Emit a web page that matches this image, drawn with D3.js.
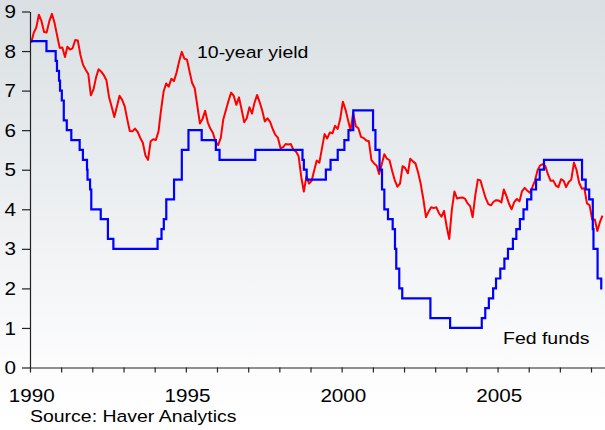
<!DOCTYPE html>
<html>
<head>
<meta charset="utf-8">
<script src="https://cdnjs.cloudflare.com/ajax/libs/d3/7.8.5/d3.min.js"></script>
<style>
body { margin: 0; }
#plot { width: 605px; height: 430px; }
</style>
</head>
<body>
<div id="plot"></div>
<script>

// 10-year Treasury yield, monthly from Jan 1990
var tenYearStart = "1990-01";
var tenYear = [
    8.21, 8.47, 8.59, 8.92, 8.76, 8.48, 8.47, 8.75, 8.94, 8.72, 8.39, 8.08,
    8.09, 7.85, 8.11, 8.04, 8.07, 8.28, 8.27, 7.90, 7.65, 7.53, 7.42, 6.88,
    7.03, 7.34, 7.54, 7.48, 7.39, 7.26, 6.84, 6.59, 6.33, 6.59, 6.87, 6.77,
    6.60, 6.26, 5.98, 5.97, 6.04, 5.96, 5.81, 5.68, 5.36, 5.25, 5.72, 5.77,
    5.75, 5.97, 6.48, 6.97, 7.18, 7.10, 7.30, 7.24, 7.46, 7.74, 7.98, 7.81,
    7.78, 7.47, 7.20, 7.06, 6.63, 6.17, 6.28, 6.49, 6.20, 6.04, 5.93, 5.71,
    5.62, 5.81, 6.27, 6.51, 6.74, 6.95, 6.87, 6.64, 6.83, 6.53, 6.20, 6.30,
    6.58, 6.42, 6.69, 6.89, 6.71, 6.49, 6.22, 6.30, 6.21, 6.03, 5.88, 5.81,
    5.54, 5.57, 5.65, 5.64, 5.65, 5.50, 5.46, 5.34, 4.81, 4.45, 4.83, 4.65,
    4.72, 5.00, 5.23, 5.18, 5.54, 5.90, 5.79, 5.94, 5.92, 6.11, 6.03, 6.28,
    6.72, 6.52, 6.26, 5.99, 6.44, 6.10, 6.05, 5.83, 5.80, 5.74, 5.72, 5.24,
    5.16, 5.10, 4.89, 5.14, 5.39, 5.28, 5.24, 4.97, 4.73, 4.57, 4.65, 5.09,
    5.04, 4.91, 5.28, 5.21, 5.16, 4.93, 4.65, 4.26, 3.80, 3.94, 4.05, 4.03,
    4.05, 3.90, 3.81, 3.96, 3.57, 3.25, 3.98, 4.45, 4.27, 4.29, 4.30, 4.27,
    4.15, 4.08, 3.80, 4.35, 4.75, 4.73, 4.50, 4.28, 4.13, 4.10, 4.19, 4.23,
    4.22, 4.17, 4.50, 4.34, 4.14, 4.00, 4.18, 4.26, 4.20, 4.46, 4.54, 4.47,
    4.42, 4.57, 4.72, 4.99, 5.11, 5.14, 5.09, 4.88, 4.72, 4.73, 4.60, 4.56,
    4.76, 4.72, 4.56, 4.69, 4.75, 5.18, 5.00, 4.67, 4.52, 4.53, 4.15, 4.10,
    3.74, 3.74, 3.45, 3.68, 3.84
];

// Fed funds target, dates of change
var fedDates = [
    "1990-01-01", "1990-07-13", "1990-10-29", "1990-11-13", "1990-12-07", "1990-12-19",
    "1991-01-09", "1991-02-01", "1991-03-08", "1991-04-30", "1991-08-06", "1991-09-13",
    "1991-10-31", "1991-11-06", "1991-12-06", "1991-12-20", "1992-04-09", "1992-07-02",
    "1992-09-04", "1994-02-04", "1994-03-22", "1994-04-18", "1994-05-17", "1994-08-16",
    "1994-11-15", "1995-02-01", "1995-07-06", "1995-12-19", "1996-01-31", "1997-03-25",
    "1998-09-29", "1998-10-15", "1998-11-17", "1999-06-30", "1999-08-24", "1999-11-16",
    "2000-02-02", "2000-03-21", "2000-05-16", "2001-01-03", "2001-01-31", "2001-03-20",
    "2001-04-18", "2001-05-15", "2001-06-27", "2001-08-21", "2001-09-17", "2001-10-02",
    "2001-11-06", "2001-12-11", "2002-11-06", "2003-06-25", "2004-06-30", "2004-08-10",
    "2004-09-21", "2004-11-10", "2004-12-14", "2005-02-02", "2005-03-22", "2005-05-03",
    "2005-06-30", "2005-08-09", "2005-09-20", "2005-11-01", "2005-12-13", "2006-01-31",
    "2006-03-28", "2006-05-10", "2006-06-29", "2007-09-18", "2007-10-31", "2007-12-11",
    "2008-01-22", "2008-01-30", "2008-03-18", "2008-04-30", "2008-05-12"
];
var fedRates = [
    8.25, 8.00, 7.75, 7.50, 7.25, 7.00,
    6.75, 6.25, 6.00, 5.75, 5.50, 5.25,
    5.00, 4.75, 4.50, 4.00, 3.75, 3.25,
    3.00, 3.25, 3.50, 3.75, 4.25, 4.75,
    5.50, 6.00, 5.75, 5.50, 5.25, 5.50,
    5.25, 5.00, 4.75, 5.00, 5.25, 5.50,
    5.75, 6.00, 6.50, 6.00, 5.50, 5.00,
    4.50, 4.00, 3.75, 3.50, 3.00, 2.50,
    2.00, 1.75, 1.25, 1.00, 1.25, 1.50,
    1.75, 2.00, 2.25, 2.50, 2.75, 3.00,
    3.25, 3.50, 3.75, 4.00, 4.25, 4.50,
    4.75, 5.00, 5.25, 4.75, 4.50, 4.25,
    3.50, 3.00, 2.25, 2.00, 2.00
];

var yTicks = [0, 1, 2, 3, 4, 5, 6, 7, 8, 9];
var xTickYears = d3.range(1990, 2009);
var xLabelYears = [1990, 1995, 2000, 2005];

var width = 605,
    height = 430,
    stretch = 1.18; // text in the original is drawn a little wide

var parse = d3.timeParse("%Y-%m-%d");
var parseMonth = d3.timeParse("%Y-%m");

var start = parseMonth(tenYearStart);
var tenData = tenYear.map(function(v, i) {
    return {date: new Date(start.getFullYear(), start.getMonth() + i, 15), value: v};
});
var fedData = fedDates.map(function(d, i) {
    return {date: parse(d), value: fedRates[i]};
});

var x = d3.scaleTime()
    .domain([new Date(1990, 0, 1), new Date(2008, 5, 13)])
    .range([30, 605]);
var y = d3.scaleLinear()
    .domain([0, 9])
    .range([367.5, 11.5]);

var svg = d3.select("#plot").append("svg")
    .attr("width", width)
    .attr("height", height)
    .style("font-family", "'Liberation Sans', Arial, sans-serif");

// Background gradient
var grad = svg.append("defs").append("linearGradient")
    .attr("id", "bg")
    .attr("x1", 0).attr("y1", 0).attr("x2", 0).attr("y2", 1);
grad.append("stop").attr("offset", "0%").attr("stop-color", "#d9dfe2");
grad.append("stop").attr("offset", "85%").attr("stop-color", "#fcfcfd");
grad.append("stop").attr("offset", "100%").attr("stop-color", "#ffffff");

svg.append("rect")
    .attr("width", width)
    .attr("height", height)
    .style("fill", "url(#bg)");

// Lines
var line = d3.line()
    .x(function(d) { return x(d.date); })
    .y(function(d) { return y(d.value); });

svg.append("path")
    .datum(tenData)
    .attr("d", line)
    .style("fill", "none")
    .style("stroke", "#ff0000")
    .style("stroke-width", 2)
    .style("stroke-linejoin", "round");

svg.append("path")
    .datum(fedData)
    .attr("d", line.curve(d3.curveStepAfter))
    .style("fill", "none")
    .style("stroke", "#0000ff")
    .style("stroke-width", 2.2);

// Axes
var yAxis = svg.append("g")
    .attr("transform", "translate(30,0)")
    .call(d3.axisLeft(y).tickValues(yTicks).tickSize(8).tickSizeOuter(0));
yAxis.selectAll("text")
    .attr("x", -12)
    .attr("dy", "0.35em")
    .attr("transform", "scale(" + stretch + ",1)")
    .style("font-size", "17.5px")
    .style("fill", "#000");

var xAxis = svg.append("g")
    .attr("transform", "translate(0,367.5)")
    .call(d3.axisBottom(x)
	  .tickValues(xTickYears.map(function(yr) { return new Date(yr, 0, 1); }))
	  .tickSize(5)
	  .tickSizeOuter(0)
	  .tickFormat(function(d) {
	      return xLabelYears.indexOf(d.getFullYear()) >= 0 ? d.getFullYear() : "";
	  }));
xAxis.selectAll("text")
    .attr("x", 1)
    .attr("y", 35)
    .attr("dy", 0)
    .attr("transform", "scale(" + stretch + ",1)")
    .style("font-size", "17.5px")
    .style("fill", "#000");

svg.selectAll(".domain, .tick line")
    .style("stroke", "#222")
    .style("stroke-width", 1.2);

// Labels
function label(txt, lx, ly, size) {
    svg.append("text")
	.attr("transform", "translate(" + lx + "," + ly + ") scale(" + stretch + ",1)")
	.style("font-size", size + "px")
	.style("fill", "#000")
	.text(txt);
}

label("10-year yield", 197, 58, 16.5);
label("Fed funds", 503, 344, 16.5);
label("Source: Haver Analytics", 30, 422, 16.5);

</script>
</body>
</html>
